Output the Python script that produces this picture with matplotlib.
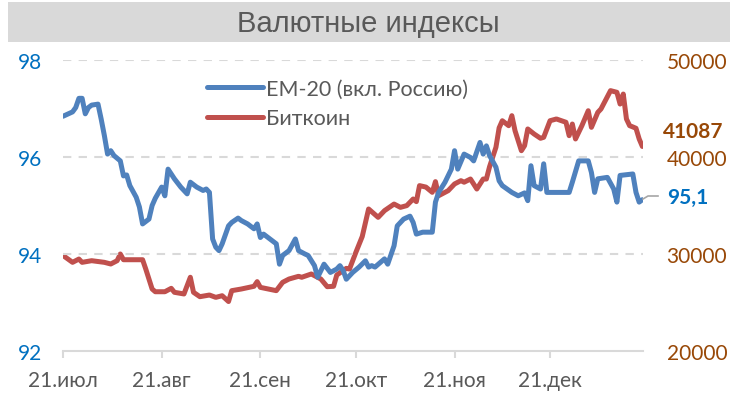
import matplotlib
matplotlib.use("Agg")
import matplotlib.pyplot as plt
from matplotlib.patches import Rectangle
from matplotlib.lines import Line2D
import pandas as pd

# ---------------- data ----------------
start_date = "2023-07-21"
title = "Валютные индексы"
em_label = "ЕМ-20 (вкл. Россию)"
btc_label = "Биткоин"

em_days = [0, 3, 4, 5, 6, 7, 8, 9, 11, 12,
           13, 14, 15, 16, 18, 19, 20, 21, 23, 24,
           25, 27, 28, 29, 31, 32, 33, 35, 37, 39,
           40, 42, 44, 45, 46, 47, 48, 49, 50, 52,
           53, 55, 56, 58, 60, 61, 62, 63, 65, 67,
           68, 69, 71, 73, 74, 76, 77, 79, 80, 82,
           84, 86, 87, 88, 89, 91, 93, 95, 96, 97,
           98, 101, 102, 104, 105, 107, 109, 110, 111, 113,
           116, 117, 118, 120, 122, 123, 124, 126, 128, 129,
           131, 132, 133, 134, 136, 137, 138, 141, 143, 145,
           146, 147, 148, 150, 151, 152, 156, 159, 160, 162,
           165, 166, 167, 168, 171, 173, 174, 175, 179, 180,
           181, 182]
em_vals = [96.84, 96.93, 97.02, 97.21, 97.21, 96.89, 97.02, 97.07, 97.09, 96.78,
           96.44, 96.06, 96.13, 96.03, 95.92, 95.61, 95.63, 95.41, 95.17, 94.97,
           94.62, 94.72, 95.00, 95.15, 95.38, 95.20, 95.75, 95.55, 95.38, 95.24,
           95.48, 95.38, 95.31, 95.34, 95.27, 94.31, 94.14, 94.07, 94.21, 94.58,
           94.65, 94.74, 94.69, 94.62, 94.52, 94.62, 94.34, 94.41, 94.31, 94.21,
           93.79, 93.97, 94.07, 94.31, 94.07, 94.00, 93.97, 93.76, 93.52, 93.79,
           93.62, 93.69, 93.76, 93.66, 93.48, 93.62, 93.73, 93.86, 93.73, 93.76,
           93.73, 93.90, 93.79, 94.17, 94.58, 94.72, 94.78, 94.65, 94.41, 94.45,
           94.45, 95.07, 95.27, 95.48, 95.75, 96.13, 95.75, 96.06, 95.99, 95.92,
           96.30, 96.06, 96.23, 96.03, 95.79, 95.51, 95.41, 95.27, 95.20, 95.26,
           95.10, 95.82, 95.41, 95.34, 95.86, 95.27, 95.27, 95.27, 95.48, 95.92,
           95.92, 95.68, 95.27, 95.55, 95.58, 95.34, 95.07, 95.62, 95.65, 95.27,
           95.07, 95.12]

btc_days = [0, 3, 5, 6, 9, 13, 15, 17, 18, 19,
            25, 26, 28, 29, 32, 34, 35, 38, 40, 41,
            43, 46, 48, 50, 52, 53, 56, 60, 61, 62,
            67, 69, 71, 74, 75, 78, 81, 83, 85, 86,
            89, 90, 92, 94, 96, 99, 101, 104, 106, 108,
            110, 111, 112, 114, 116, 117, 118, 121, 123, 125,
            126, 128, 130, 132, 133, 134, 136, 137, 138, 140,
            141, 142, 144, 145, 146, 148, 150, 151, 153, 155,
            158, 159, 160, 161, 163, 165, 166, 168, 169, 172,
            174, 175, 176, 177, 178, 179, 180, 181, 182]
btc_vals = [29850, 29140, 29480, 29140, 29310, 29140, 28970, 29310, 30000, 29410,
            29410, 28450, 26390, 26110, 26110, 26460, 26050, 25880, 27600, 26050,
            25600, 25770, 25530, 25700, 25100, 26220, 26390, 26670, 27150, 26560,
            26220, 27080, 27420, 27700, 27600, 27940, 27420, 26630, 26670, 27830,
            28520, 28450, 30170, 31800, 34640, 33780, 34470, 35150, 34810, 34990,
            35670, 35400, 37050, 36900, 36360, 37460, 36010, 36530, 37220, 37560,
            37400, 37730, 36700, 37730, 37730, 39000, 41000, 43000, 43740, 43230,
            44260, 42710, 40650, 41170, 42890, 42370, 41930, 42030, 43740, 43920,
            43580, 42200, 43400, 41860, 43230, 44770, 43060, 44600, 44950, 46840,
            46670, 45460, 46490, 43920, 43230, 43100, 42960, 41860, 41087]

tick_dates = ["2023-07-21", "2023-08-21", "2023-09-21", "2023-10-21", "2023-11-21", "2023-12-21"]
tick_labels = ["21.июл", "21.авг", "21.сен", "21.окт", "21.ноя", "21.дек"]
left_ticks = [92, 94, 96, 98]
right_ticks = [20000, 30000, 40000, 50000]

# ---------------- styling ----------------
W, H = 730, 402
FONT = ["Lato", "DejaVu Sans"]
BLUE = "#4F81BD"
RED = "#C0504D"
BLUE_TXT = "#0070C0"
BROWN = "#984807"
GREY_TXT = "#595959"
GRID = "#D9D9D9"

plt.rcParams["font.family"] = FONT

fig = plt.figure(figsize=(W / 100, H / 100), dpi=100)

def fx(px):
    return px / W

def fy(py):
    return 1 - py / H

# title box
fig.patches.append(Rectangle((fx(8), fy(43)), 1 - fx(8), (43 - 3) / H,
                             transform=fig.transFigure, facecolor="#D9D9D9",
                             edgecolor="none", zorder=0))
fig.text(fx(368), fy(24), title, ha="center", va="center", fontsize=21,
         color=GREY_TXT, family=["Liberation Sans Narrow", "Liberation Sans", "DejaVu Sans"])

ax = fig.add_axes([fx(63), fy(352), fx(643) - fx(63), (352 - 61) / H])
ax2 = ax.twinx()

t0 = pd.Timestamp(start_date)
em_dates = t0 + pd.to_timedelta(em_days, unit="D")
btc_dates = t0 + pd.to_timedelta(btc_days, unit="D")

ax.plot(em_dates, em_vals, color=BLUE, lw=3.6, solid_joinstyle="round",
        solid_capstyle="round", zorder=3, label=em_label)
ax2.plot(btc_dates, btc_vals, color=RED, lw=3.6, solid_joinstyle="round",
         solid_capstyle="round", zorder=3, label=btc_label)

ax.set_ylim(92, 98)
ax2.set_ylim(20000, 50000)
ax.set_xlim(t0, t0 + pd.Timedelta(days=182.2))

ax.set_yticks(left_ticks)
ax2.set_yticks(right_ticks)
ax.set_yticklabels([str(v) for v in left_ticks])
ax2.set_yticklabels([str(v) for v in right_ticks])

ax.set_xticks(pd.to_datetime(tick_dates))
ax.set_xticklabels(tick_labels)

for a in (ax, ax2):
    for s in ("top", "left", "right", "bottom"):
        a.spines[s].set_visible(False)
ax.spines["bottom"].set_visible(True)
ax.spines["bottom"].set_color(GRID)
ax.spines["bottom"].set_linewidth(1.5)

ax.tick_params(axis="x", length=5, width=1.5, color=GRID, labelsize=15,
               labelcolor=GREY_TXT, pad=9)
ax.tick_params(axis="y", length=0, labelsize=15, labelcolor=BLUE_TXT, pad=15)
ax2.tick_params(axis="y", length=0, labelsize=15, labelcolor=BROWN, pad=17)

# dashed gridlines (except bottom)
for v in left_ticks[1:]:
    ax.axhline(v, color=GRID, lw=1.5, ls=(0, (4, 3.5)), zorder=1)

ax.set_zorder(ax2.get_zorder() + 1)
ax.patch.set_visible(False)

# legend
handles = [Line2D([], [], color=BLUE, lw=3.6, solid_capstyle="round"),
           Line2D([], [], color=RED, lw=3.6, solid_capstyle="round")]
leg = fig.legend(handles, [em_label, btc_label], loc="upper left",
                 bbox_to_anchor=(fx(207), fy(80)), frameon=False, fontsize=15.5,
                 handlelength=2.6, handletextpad=0.15, labelspacing=0.42,
                 borderpad=0, borderaxespad=0)
for t in leg.get_texts():
    t.set_color(GREY_TXT)

# end-value labels
fig.text(fx(663), fy(132), str(btc_vals[-1]), ha="left", va="center",
         fontsize=15, fontweight="bold", color=BROWN)
fig.text(fx(667), fy(198), f"{em_vals[-1]:.1f}".replace(".", ","), ha="left",
         va="center", fontsize=15, fontweight="bold", color=BLUE_TXT)
fig.lines.append(Line2D([fx(643), fx(648), fx(658)], [fy(200), fy(197), fy(197)],
                        transform=fig.transFigure, color="#A6A6A6", lw=1.2))

fig.savefig("out.png", dpi=100)
